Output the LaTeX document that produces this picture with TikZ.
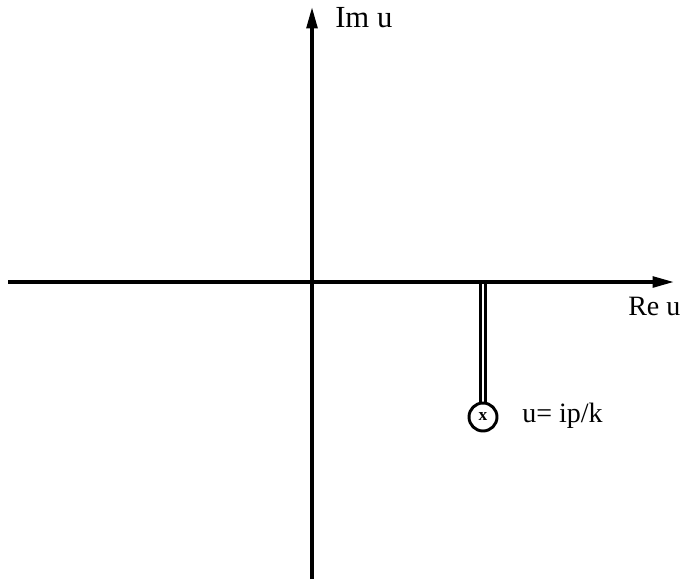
\documentclass[tikz,border=0pt]{standalone}
\usepackage{fontspec}
\setmainfont{Liberation Serif}
\usetikzlibrary{arrows.meta}

\begin{document}
\begin{tikzpicture}[x=0.75pt, y=-0.75pt,
    axe/.style={line width=2.6pt, -{Triangle[length=16pt, width=8pt]}},
    coupure/.style={line width=1.6pt},
    lbl/.style={font=\fontsize{21}{25}\selectfont, inner sep=0pt}]
    \useasboundingbox (0,0) rectangle (681,579);

    % Axes
    \coordinate (O) at (312,282);
    \coordinate (xg) at (8,282);
    \coordinate (xd) at (674,282);
    \coordinate (yb) at (312,579);
    \coordinate (yh) at (312,7);
    \draw[axe] (xg) -- (xd);
    \draw[axe] (yb) -- (yh);
    \node[lbl, font=\fontsize{23}{27}\selectfont, anchor=base west] (imu) at (335,27) {Im u};
    \node[lbl, anchor=base west] (reu) at (628,315) {Re u};

    % Pole et coupure
    \node[circle, draw, line width=2.2pt, minimum size=21pt, inner sep=0pt,
        font=\bfseries\fontsize{13}{15}\selectfont] (pole) at (483,417) {x};
    \draw[coupure] ([xshift=-1.9pt]pole.north) -- ([xshift=-1.9pt]pole.north |- O);
    \draw[coupure] ([xshift=1.9pt]pole.north) -- ([xshift=1.9pt]pole.north |- O);
    \node[lbl, anchor=base west] (valeur) at (522,422) {u= ip/k};
\end{tikzpicture}
\end{document}
